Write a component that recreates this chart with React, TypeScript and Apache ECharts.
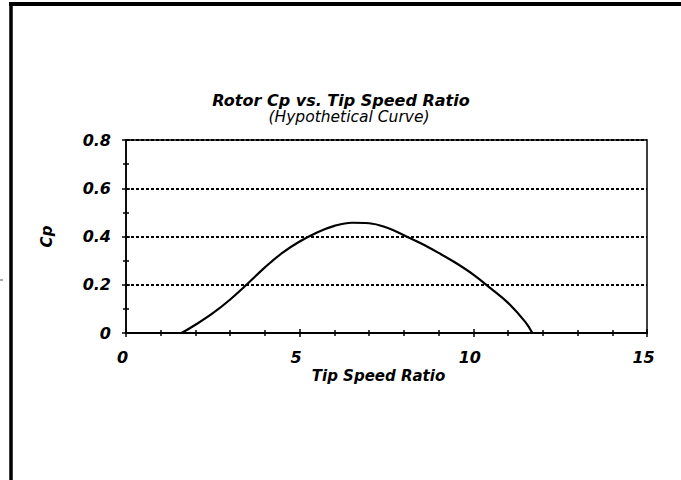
import React, { useEffect, useRef } from "react";
import * as echarts from "echarts";

const titleText = "Rotor Cp vs. Tip Speed Ratio";
const subtitleText = "(Hypothetical Curve)";
const xName = "Tip Speed Ratio";
const yName = "Cp";

const tsr = [1.6, 2.0, 2.5, 3.0, 3.5, 4.0, 4.5, 5.0, 5.5, 6.0, 6.5, 7.0, 7.5, 8.0, 8.5, 9.0, 9.5, 10.0, 10.5, 11.0, 11.5, 11.7];
const cp = [0, 0.034, 0.082, 0.139, 0.204, 0.272, 0.332, 0.379, 0.417, 0.444, 0.457, 0.455, 0.437, 0.405, 0.371, 0.332, 0.29, 0.242, 0.185, 0.125, 0.045, 0];

const xMin = 0, xMax = 15, xStep = 5;
const yMin = 0, yMax = 0.8, yStep = 0.2;

const FONT = "DejaVu Sans";

export default function App() {
  const ref = useRef<HTMLDivElement>(null);
  useEffect(() => {
    if (!ref.current) return;
    const chart = echarts.init(ref.current, undefined, { renderer: "svg" });
    const labelStyle = { fontFamily: FONT, fontWeight: "bold" as const, fontStyle: "italic" as const, fontSize: 16, color: "#000" };
    const baseX = {
      type: "value" as const,
      min: xMin, max: xMax, interval: xStep,
      position: "bottom" as const,
      splitLine: { show: false },
    };
    const baseY = {
      type: "value" as const,
      min: yMin, max: yMax, interval: yStep,
      position: "left" as const,
    };
    chart.setOption({
      animation: false,
      backgroundColor: "#fff",
      title: [
        {
          text: titleText,
          left: 341, top: 92, textAlign: "center",
          textStyle: { fontFamily: FONT, fontWeight: "bold", fontStyle: "italic", fontSize: 16, color: "#000" },
          padding: 0,
        },
        {
          text: subtitleText,
          left: 349, top: 109, textAlign: "center",
          textStyle: { fontFamily: FONT, fontWeight: "normal", fontStyle: "italic", fontSize: 15.5, color: "#000" },
          padding: 0,
        },
      ],
      grid: { left: 126, right: 34, top: 140, bottom: 147, show: true, borderColor: "#000", borderWidth: 1.5, backgroundColor: "transparent" },
      xAxis: [
        {
          ...baseX,
          axisLine: { show: true, lineStyle: { color: "#000", width: 2 } },
          axisTick: { show: true, inside: false, length: 4, lineStyle: { color: "#000", width: 1.5 } },
          minorTick: { show: true, splitNumber: 5, length: 3, lineStyle: { color: "#000", width: 1.5 } },
          axisLabel: { ...labelStyle, margin: 16, padding: [0, 7, 0, 0] },
          name: xName,
          nameLocation: "middle",
          nameGap: 35,
          nameTextStyle: { fontFamily: FONT, fontWeight: "bold", fontStyle: "italic", fontSize: 15, color: "#000", padding: [0, 16, 0, 0] },
        },
        {
          ...baseX,
          axisLine: { show: false },
          axisTick: { show: true, inside: true, length: 4, lineStyle: { color: "#000", width: 1.5 } },
          minorTick: { show: true, splitNumber: 5, length: 3, lineStyle: { color: "#000", width: 1.5 } },
          axisLabel: { show: false },
        },
      ],
      yAxis: [
        {
          ...baseY,
          axisLine: { show: true, lineStyle: { color: "#000", width: 1.5 } },
          axisTick: { show: true, inside: false, length: 4, lineStyle: { color: "#000", width: 1.5 } },
          minorTick: { show: true, splitNumber: 2, length: 3, lineStyle: { color: "#000", width: 1.5 } },
          splitLine: { show: true, lineStyle: { color: "#000", width: 2, type: [3, 2] } },
          axisLabel: {
            ...labelStyle, margin: 15,
            formatter: (v: number) => (v === 0 ? "0" : v.toFixed(1)),
          },
          name: yName,
          nameLocation: "middle",
          nameGap: 72,
          nameRotate: 90,
          nameTextStyle: { fontFamily: FONT, fontWeight: "bold", fontStyle: "italic", fontSize: 15, color: "#000" },
        },
        {
          ...baseY,
          axisLine: { show: false },
          axisTick: { show: true, inside: true, length: 4, lineStyle: { color: "#000", width: 1.5 } },
          minorTick: { show: true, splitNumber: 2, length: 3, lineStyle: { color: "#000", width: 1.5 } },
          splitLine: { show: false },
          axisLabel: { show: false },
        },
      ],
      graphic: [
        { type: "line", shape: { x1: 9, y1: 4, x2: 681, y2: 4 }, style: { stroke: "#000", lineWidth: 4 } },
        { type: "line", shape: { x1: 11, y1: 2, x2: 11, y2: 480 }, style: { stroke: "#000", lineWidth: 3.5 } },
        { type: "line", shape: { x1: 0, y1: 280, x2: 3, y2: 280 }, style: { stroke: "#555", lineWidth: 1 } },
      ],
      series: [
        {
          type: "line",
          xAxisIndex: 0,
          yAxisIndex: 0,
          data: tsr.map((x, i) => [x, cp[i]]),
          smooth: 0.4,
          showSymbol: false,
          symbol: "none",
          lineStyle: { color: "#000", width: 2.2 },
        },
      ],
    });
    return () => chart.dispose();
  }, []);
  return <div ref={ref} style={{ position: "absolute", left: 0, top: 0, width: 681, height: 480, background: "#fff" }} />;
}
